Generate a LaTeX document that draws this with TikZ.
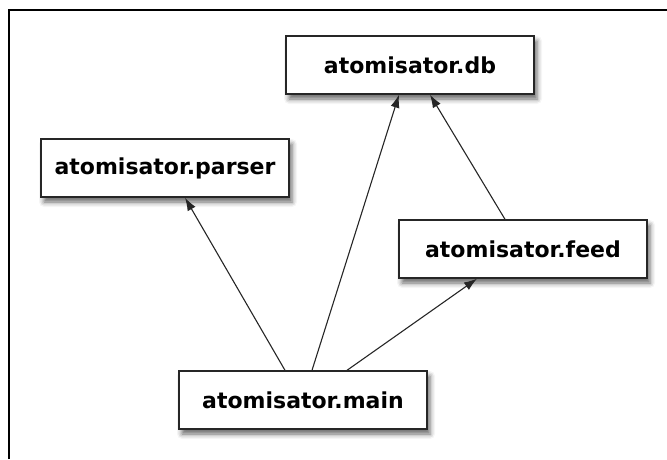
\documentclass[tikz,border=0pt]{standalone}
\usepackage{fontspec}
\setsansfont{DejaVu Sans}
\usetikzlibrary{arrows.meta,shadows.blur}

\begin{document}
\begin{tikzpicture}[x=1pt,y=-1pt]

        \useasboundingbox (0,0) rectangle (667,459);
        \draw[line width=1.1pt] (9,459) -- (9,10) -- (667,10);

        \begin{scope}[every node/.style={draw=black!85, line width=1.4pt, fill=white,
            minimum width=248pt, minimum height=58pt, inner sep=0pt,
            font=\sffamily\bfseries\fontsize{22}{26}\selectfont,
            blur shadow={shadow xshift=3pt, shadow yshift=-5pt, shadow blur radius=5pt, shadow opacity=60}}]
          \node (db)     at (410,65)  {atomisator.db};
          \node (parser) at (165,168) {atomisator.parser};
          \node (feed)   at (523,249) {atomisator.feed};
          \node (main)   at (303,400) {atomisator.main};
        \end{scope}

        \begin{scope}[every edge/.style={draw, draw=black!85, line width=1.1pt, -{Latex[length=13pt,width=9pt]}}]
          \path ([xshift=-18pt]main.north) edge ([xshift=20pt]parser.south);
          \path ([xshift=9pt]main.north)   edge ([xshift=-11pt]db.south);
          \path ([xshift=-18pt]feed.north) edge ([xshift=20pt]db.south);
          \path ([xshift=44pt]main.north)  edge ([xshift=-46pt]feed.south);
        \end{scope}

      \end{tikzpicture}
\end{document}
